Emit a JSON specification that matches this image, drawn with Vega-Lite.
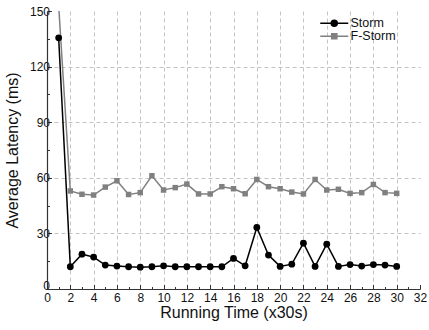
{
  "$schema": "https://vega.github.io/schema/vega-lite/v6.json",
  "width": 373,
  "height": 278,
  "autosize": "none",
  "padding": {"left": 47, "top": 11, "right": 9, "bottom": 41},
  "background": "white",
  "config": {
    "view": {"stroke": null},
    "font": "Liberation Sans",
    "axis": {
      "domainColor": "#333333",
      "domainWidth": 1.2,
      "tickColor": "#333333",
      "tickWidth": 1,
      "labelColor": "#111111",
      "labelFontSize": 12,
      "titleColor": "#111111",
      "titleFontSize": 16,
      "titleFontWeight": "normal",
      "gridColor": "#c4c4c4",
      "gridDash": [4, 3],
      "gridWidth": 1,
      "labelOverlap": false,
      "labelFlush": false
    }
  },
  "data": {
    "values": [
      {"t": 1, "series": "Storm", "v": 135.5},
      {"t": 2, "series": "Storm", "v": 12},
      {"t": 3, "series": "Storm", "v": 18.8},
      {"t": 4, "series": "Storm", "v": 17.2},
      {"t": 5, "series": "Storm", "v": 12.9},
      {"t": 6, "series": "Storm", "v": 12.4},
      {"t": 7, "series": "Storm", "v": 12},
      {"t": 8, "series": "Storm", "v": 11.8},
      {"t": 9, "series": "Storm", "v": 12},
      {"t": 10, "series": "Storm", "v": 12.5},
      {"t": 11, "series": "Storm", "v": 12},
      {"t": 12, "series": "Storm", "v": 12},
      {"t": 13, "series": "Storm", "v": 12},
      {"t": 14, "series": "Storm", "v": 12},
      {"t": 15, "series": "Storm", "v": 12},
      {"t": 16, "series": "Storm", "v": 16.5},
      {"t": 17, "series": "Storm", "v": 12.5},
      {"t": 18, "series": "Storm", "v": 33.2},
      {"t": 19, "series": "Storm", "v": 18.3},
      {"t": 20, "series": "Storm", "v": 12.2},
      {"t": 21, "series": "Storm", "v": 13.4},
      {"t": 22, "series": "Storm", "v": 24.7},
      {"t": 23, "series": "Storm", "v": 12.2},
      {"t": 24, "series": "Storm", "v": 24.2},
      {"t": 25, "series": "Storm", "v": 12.2},
      {"t": 26, "series": "Storm", "v": 13.2},
      {"t": 27, "series": "Storm", "v": 12.4},
      {"t": 28, "series": "Storm", "v": 13.2},
      {"t": 29, "series": "Storm", "v": 12.9},
      {"t": 30, "series": "Storm", "v": 12.2},
      {"t": 1, "series": "F-Storm", "v": 153},
      {"t": 2, "series": "F-Storm", "v": 52.9},
      {"t": 3, "series": "F-Storm", "v": 51.1},
      {"t": 4, "series": "F-Storm", "v": 50.7},
      {"t": 5, "series": "F-Storm", "v": 55},
      {"t": 6, "series": "F-Storm", "v": 58.4},
      {"t": 7, "series": "F-Storm", "v": 51},
      {"t": 8, "series": "F-Storm", "v": 52},
      {"t": 9, "series": "F-Storm", "v": 61.1},
      {"t": 10, "series": "F-Storm", "v": 53.4},
      {"t": 11, "series": "F-Storm", "v": 54.7},
      {"t": 12, "series": "F-Storm", "v": 56.6},
      {"t": 13, "series": "F-Storm", "v": 51.3},
      {"t": 14, "series": "F-Storm", "v": 51.3},
      {"t": 15, "series": "F-Storm", "v": 55.2},
      {"t": 16, "series": "F-Storm", "v": 54.1},
      {"t": 17, "series": "F-Storm", "v": 51.4},
      {"t": 18, "series": "F-Storm", "v": 59.1},
      {"t": 19, "series": "F-Storm", "v": 55.2},
      {"t": 20, "series": "F-Storm", "v": 54.1},
      {"t": 21, "series": "F-Storm", "v": 52.3},
      {"t": 22, "series": "F-Storm", "v": 51.3},
      {"t": 23, "series": "F-Storm", "v": 59.1},
      {"t": 24, "series": "F-Storm", "v": 53.4},
      {"t": 25, "series": "F-Storm", "v": 53.8},
      {"t": 26, "series": "F-Storm", "v": 51.6},
      {"t": 27, "series": "F-Storm", "v": 52},
      {"t": 28, "series": "F-Storm", "v": 56.4},
      {"t": 29, "series": "F-Storm", "v": 52},
      {"t": 30, "series": "F-Storm", "v": 51.6}
    ]
  },
  "encoding": {
    "x": {
      "field": "t",
      "type": "quantitative",
      "scale": {"domain": [0, 32], "nice": false, "zero": false},
      "axis": {
        "title": "Running Time (x30s)",
        "values": [0,1,2,3,4,5,6,7,8,9,10,11,12,13,14,15,16,17,18,19,20,21,22,23,24,25,26,27,28,29,30,31,32],
        "labelExpr": "datum.value % 2 == 0 ? datum.label : ''",
        "tickSize": {"condition": {"test": "datum.value % 2 == 1", "value": -2.5}, "value": -4.5},
        "gridOpacity": {"condition": {"test": "datum.value % 2 == 1 || datum.value == 0 || datum.value == 32", "value": 0}, "value": 1},
        "labelPadding": 8,
        "titlePadding": -1
      }
    },
    "y": {
      "field": "v",
      "type": "quantitative",
      "scale": {"domain": [0, 150], "nice": false},
      "axis": {
        "title": "Average Latency (ms)",
        "values": [0,15,30,45,60,75,90,105,120,135,150],
        "labelExpr": "datum.value % 30 == 0 ? datum.label : ''",
        "labelBaseline": {"condition": {"test": "datum.value == 0", "value": "alphabetic"}, "value": "middle"},
        "tickSize": {"condition": {"test": "datum.value % 30 == 15", "value": -2.5}, "value": -4.5},
        "gridOpacity": {"condition": {"test": "datum.value == 0 || datum.value == 150 || datum.value % 30 == 15", "value": 0}, "value": 1},
        "labelPadding": 2,
        "titlePadding": 9
      }
    }
  },
  "layer": [
    {
      "mark": {"type": "line", "strokeWidth": 1.5, "clip": true},
      "encoding": {
        "color": {
          "field": "series",
          "type": "nominal",
          "scale": {"domain": ["Storm", "F-Storm"], "range": ["#000000", "#808080"]},
          "legend": {
            "title": null,
            "orient": "none",
            "legendX": 281,
            "legendY": 6,
            "labelFontSize": 12.5,
            "labelColor": "#111111",
            "symbolSize": 64,
            "symbolStrokeWidth": 1.5,
            "rowPadding": 0,
            "labelOffset": 10,
            "encode": {
              "symbols": {
                "update": {
                  "shape": {"signal": "datum.value === 'Storm' ? 'M-3.5,0H3.5M0.75,0A0.75,0.75 0 1,1 -0.75,0A0.75,0.75 0 1,1 0.75,0Z' : 'M-3.5,0H3.5M-0.65,-0.65H0.65V0.65H-0.65Z'"},
                  "fill": {"signal": "datum.value === 'Storm' ? '#000000' : '#808080'"},
                  "stroke": {"signal": "datum.value === 'Storm' ? '#000000' : '#808080'"},
                  "strokeWidth": {"value": 1.5},
                  "fillOpacity": {"value": 1}
                }
              }
            }
          }
        }
      }
    },
    {
      "transform": [{"filter": "datum.series === 'Storm'"}],
      "mark": {"type": "point", "filled": true, "opacity": 1, "clip": true, "shape": "circle", "size": 46, "color": "#000000"}
    },
    {
      "transform": [{"filter": "datum.series === 'F-Storm'"}],
      "mark": {"type": "point", "filled": true, "opacity": 1, "clip": true, "shape": "square", "size": 30, "color": "#808080"}
    }
  ]
}
